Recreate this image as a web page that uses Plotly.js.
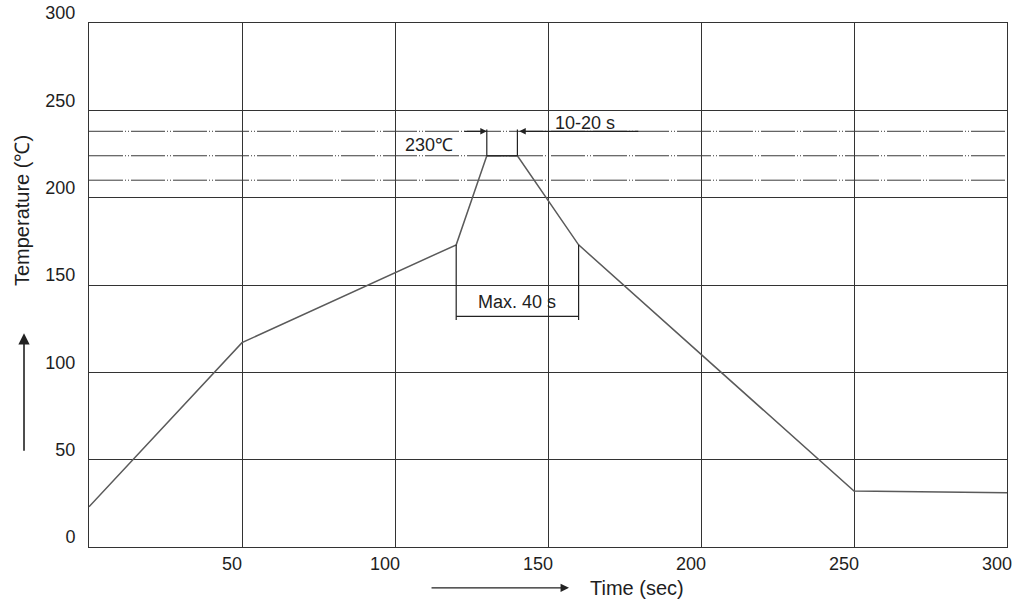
<!DOCTYPE html>
<html>
<head>
<meta charset="utf-8">
<script src="https://cdn.plot.ly/plotly-3.0.1.min.js"></script>
<style>
  html, body { margin: 0; padding: 0; background: #fff; }
  #chart { width: 1019px; height: 603px; }
</style>
</head>
<body>
<div id="chart"></div>
<script>
// Reflow temperature profile
const timeSec = [0, 50, 120, 130, 140, 160, 250, 300];
const tempC   = [23, 117, 173, 224, 224, 173, 32, 31];

// dash-dot reference levels
const refLevels = [238, 224, 210];

// "Max. 40 s" bracket
const maxWinX = [120, 160];
const maxWinTopY = 173;
const maxWinBarY = 132;
const maxWinLowY = 130;

// "10-20 s" bracket
const peakWinX = [130, 140];
const peakWinLowY = 224;
const peakWinTopY = 239;
const peakArrowY = 238;
const peakArrowTailX = 180;

const xTicks = [50, 100, 150, 200, 250, 300];
const yTicks = [0, 50, 100, 150, 200, 250, 300];

const FONT = 'Liberation Sans, Arial, sans-serif';
const INK = '#1e1e1e';

const traces = [];

// reference dash-dot lines
refLevels.forEach(v => {
  traces.push({
    x: [0, 300], y: [v, v], mode: 'lines', hoverinfo: 'skip', showlegend: false,
    line: { color: '#3a3a3a', width: 1, dash: '34px,2px,1px,2px,1px,2px' }
  });
});

// profile curve
traces.push({
  x: timeSec, y: tempC, mode: 'lines', showlegend: false,
  line: { color: '#5a5a5a', width: 1.5 }
});

// Max. 40 s bracket
traces.push({
  x: [maxWinX[0], maxWinX[0], null, maxWinX[1], maxWinX[1], null, maxWinX[0], maxWinX[1]],
  y: [maxWinTopY, maxWinLowY, null, maxWinTopY, maxWinLowY, null, maxWinBarY, maxWinBarY],
  mode: 'lines', hoverinfo: 'skip', showlegend: false,
  line: { color: '#222', width: 1.2 }
});

// 10-20 s bracket
traces.push({
  x: [peakWinX[0], peakWinX[0], null, peakWinX[1], peakWinX[1], null, peakWinX[0], peakWinX[1]],
  y: [peakWinLowY, peakWinTopY, null, peakWinLowY, peakWinTopY, null, peakWinLowY, peakWinLowY],
  mode: 'lines', hoverinfo: 'skip', showlegend: false,
  line: { color: '#222', width: 1.2 }
});

const annotations = [
  { x: 111, y: 230, xref: 'x', yref: 'y', text: '230℃', showarrow: false,
    font: { family: FONT, size: 18, color: INK } },
  { x: 162, y: 243, xref: 'x', yref: 'y', text: '10-20 s', showarrow: false,
    font: { family: FONT, size: 18, color: INK } },
  { x: 140, y: 140, xref: 'x', yref: 'y', text: 'Max. 40 s', showarrow: false,
    font: { family: FONT, size: 18, color: INK } },
  // arrows to the 10-20 s window
  { x: peakWinX[0], y: peakArrowY, xref: 'x', yref: 'y', ax: -24, ay: 0,
    text: '', showarrow: true, arrowhead: 2, arrowsize: 1, arrowwidth: 1.3,
    arrowcolor: '#222', standoff: 0 },
  { x: peakWinX[1] + 0.6, y: peakArrowY, xref: 'x', yref: 'y',
    axref: 'x', ayref: 'y', ax: peakArrowTailX, ay: peakArrowY,
    text: '', showarrow: true, arrowhead: 2, arrowsize: 1, arrowwidth: 1.3,
    arrowcolor: '#222', standoff: 0 },
  // axis titles
  { x: -0.073, y: 0.643, xref: 'paper', yref: 'paper', xanchor: 'center', yanchor: 'middle',
    text: 'Temperature (℃)', textangle: -90, showarrow: false,
    font: { family: FONT, size: 20, color: INK } },
  { x: 0.597, y: -0.078, xref: 'paper', yref: 'paper', xanchor: 'center', yanchor: 'middle',
    text: 'Time (sec)', showarrow: false, font: { family: FONT, size: 20, color: INK } },
  // axis direction arrows
  { x: -0.0708, y: 0.408, xref: 'paper', yref: 'paper', ax: 0, ay: 119,
    text: '', showarrow: true, arrowhead: 2, arrowsize: 1.4, arrowwidth: 1.6,
    arrowcolor: '#222', standoff: 0 },
  { x: 0.5229, y: -0.078, xref: 'paper', yref: 'paper', ax: -139, ay: 0,
    text: '', showarrow: true, arrowhead: 2, arrowsize: 1.3, arrowwidth: 1.3,
    arrowcolor: '#222', standoff: 0 }
];

const layout = {
  width: 1019, height: 603,
  margin: { l: 89, r: 12, t: 23, b: 56 },
  paper_bgcolor: '#fff', plot_bgcolor: '#fff',
  showlegend: false,
  xaxis: {
    range: [0, 300], tickvals: xTicks, ticktext: xTicks.map(String),
    showgrid: true, gridcolor: '#333', gridwidth: 1,
    showline: true, mirror: true, linecolor: '#333', linewidth: 1,
    zeroline: false, ticks: '', fixedrange: true,
    tickfont: { family: FONT, size: 18, color: INK },
    ticklabelshift: -10, ticklabelstandoff: 0
  },
  yaxis: {
    range: [0, 300], tickvals: yTicks, ticktext: yTicks.map(String),
    showgrid: true, gridcolor: '#333', gridwidth: 1,
    showline: true, mirror: true, linecolor: '#333', linewidth: 1,
    zeroline: false, ticks: '', fixedrange: true,
    tickfont: { family: FONT, size: 18, color: INK },
    ticklabelshift: -10, ticklabelstandoff: 9
  },
  annotations: annotations
};

Plotly.newPlot('chart', traces, layout, { displayModeBar: false, staticPlot: true });
</script>
</body>
</html>
